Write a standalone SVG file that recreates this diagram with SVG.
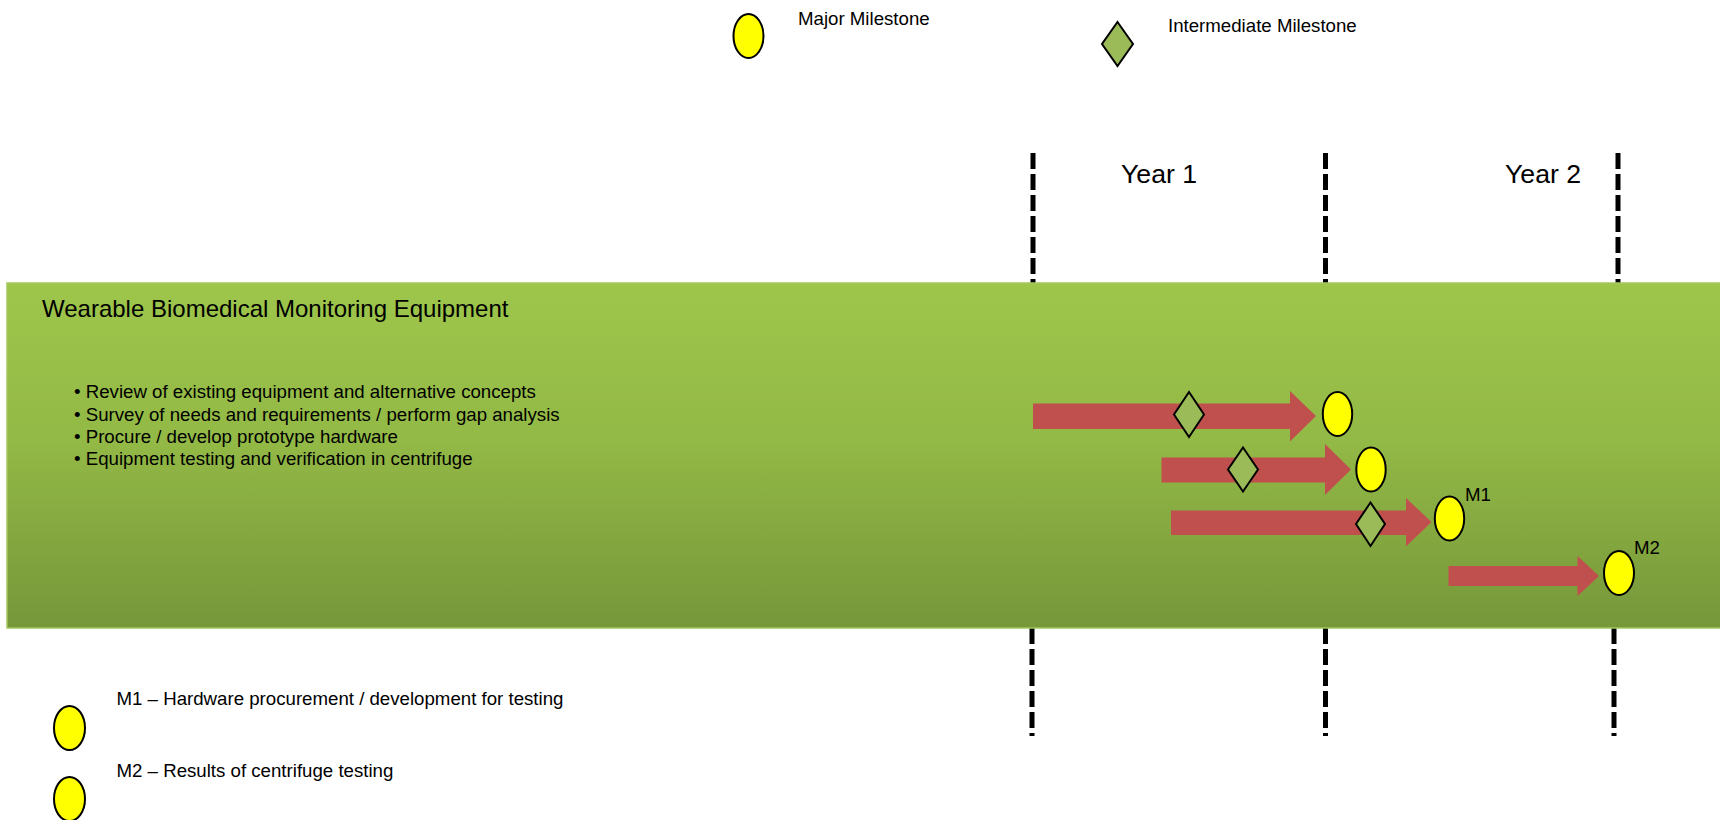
<svg xmlns="http://www.w3.org/2000/svg" width="1720" height="820" viewBox="0 0 1720 820">
<defs>
<linearGradient id="band" x1="0" y1="0" x2="0" y2="1">
<stop offset="0" stop-color="#9ec64b"/>
<stop offset="0.45" stop-color="#93b946"/>
<stop offset="1" stop-color="#76973a"/>
</linearGradient>
<style>
text{font-family:"Liberation Sans",Arial,sans-serif;fill:#000}
.t14{font-size:18.67px}
.title{font-size:24px}
.year{font-size:26.67px}
.major{fill:#ffff00;stroke:#000;stroke-width:2}
.inter{fill:#9bbb59;stroke:#000;stroke-width:2}
.arrow{fill:#c0504d}
.dash{stroke:#000;stroke-width:5;stroke-dasharray:16 5;fill:none}
</style>
</defs>
<rect width="1720" height="820" fill="#fff"/>
<g id="legend-major">
<ellipse class="major" cx="748.5" cy="36" rx="15" ry="22"/>
<text class="t14" x="798" y="25">Major Milestone</text>
</g>
<g id="legend-intermediate">
<polygon class="inter" points="1117.5,22 1133,44 1117.5,66 1102,44"/>
<text class="t14" x="1168" y="32">Intermediate Milestone</text>
</g>
<g id="timeline-lines">
<line class="dash" x1="1033" y1="153" x2="1033" y2="283"/>
<line class="dash" x1="1325.5" y1="153" x2="1325.5" y2="283"/>
<line class="dash" x1="1618" y1="153" x2="1618" y2="283"/>
<line class="dash" x1="1032" y1="628" x2="1032" y2="736"/>
<line class="dash" x1="1325.5" y1="628" x2="1325.5" y2="736"/>
<line class="dash" x1="1614" y1="628" x2="1614" y2="736"/>
</g>
<g id="years">
<text class="year" x="1121" y="183">Year 1</text>
<text class="year" x="1505" y="183">Year 2</text>
</g>
<g id="band-node">
<rect x="7" y="283" width="1720" height="345" fill="url(#band)" stroke="#a3c85e" stroke-width="1.5"/>
<text class="title" x="42" y="317">Wearable Biomedical Monitoring Equipment</text>
<text class="t14" x="74" y="398">• Review of existing equipment and alternative concepts</text>
<text class="t14" x="74" y="420.5">• Survey of needs and requirements / perform gap analysis</text>
<text class="t14" x="74" y="443">• Procure / develop prototype hardware</text>
<text class="t14" x="74" y="465">• Equipment testing and verification in centrifuge</text>
</g>
<g id="connectors">
<polygon class="arrow" points="1033,403.5 1290,403.5 1290,391 1316,416 1290,441.5 1290,429 1033,429"/>
<polygon class="arrow" points="1161.5,457.5 1325,457.5 1325,444 1351,469.5 1325,495 1325,482.5 1161.5,482.5"/>
<polygon class="arrow" points="1171,510.5 1406,510.5 1406,498 1431.5,522 1406,546.5 1406,535 1171,535"/>
<polygon class="arrow" points="1448.5,566 1577.5,566 1577.5,556 1599,576 1577.5,596 1577.5,586 1448.5,586"/>
</g>
<g id="task1">
<polygon class="inter" points="1189,392 1204,414.5 1189,437 1174,414.5"/>
<ellipse class="major" cx="1337.5" cy="414" rx="14.7" ry="22"/>
</g>
<g id="task2">
<polygon class="inter" points="1243,447.5 1258,469.5 1243,491.5 1228,469.5"/>
<ellipse class="major" cx="1371" cy="469.5" rx="14.7" ry="22"/>
</g>
<g id="task3">
<polygon class="inter" points="1370.5,502.5 1385,524 1370.5,546 1356,524"/>
<ellipse class="major" cx="1449.5" cy="518.5" rx="14.7" ry="22"/>
<text class="t14" x="1465" y="501">M1</text>
</g>
<g id="task4">
<ellipse class="major" cx="1619" cy="573" rx="15" ry="22"/>
<text class="t14" x="1634" y="554">M2</text>
</g>
<g id="legend-m1">
<ellipse class="major" cx="69.5" cy="728" rx="15.5" ry="22"/>
<text class="t14" x="116.5" y="705">M1 – Hardware procurement / development for testing</text>
</g>
<g id="legend-m2">
<ellipse class="major" cx="69.5" cy="799" rx="15.5" ry="22"/>
<text class="t14" x="116.5" y="777">M2 – Results of centrifuge testing</text>
</g>
</svg>
